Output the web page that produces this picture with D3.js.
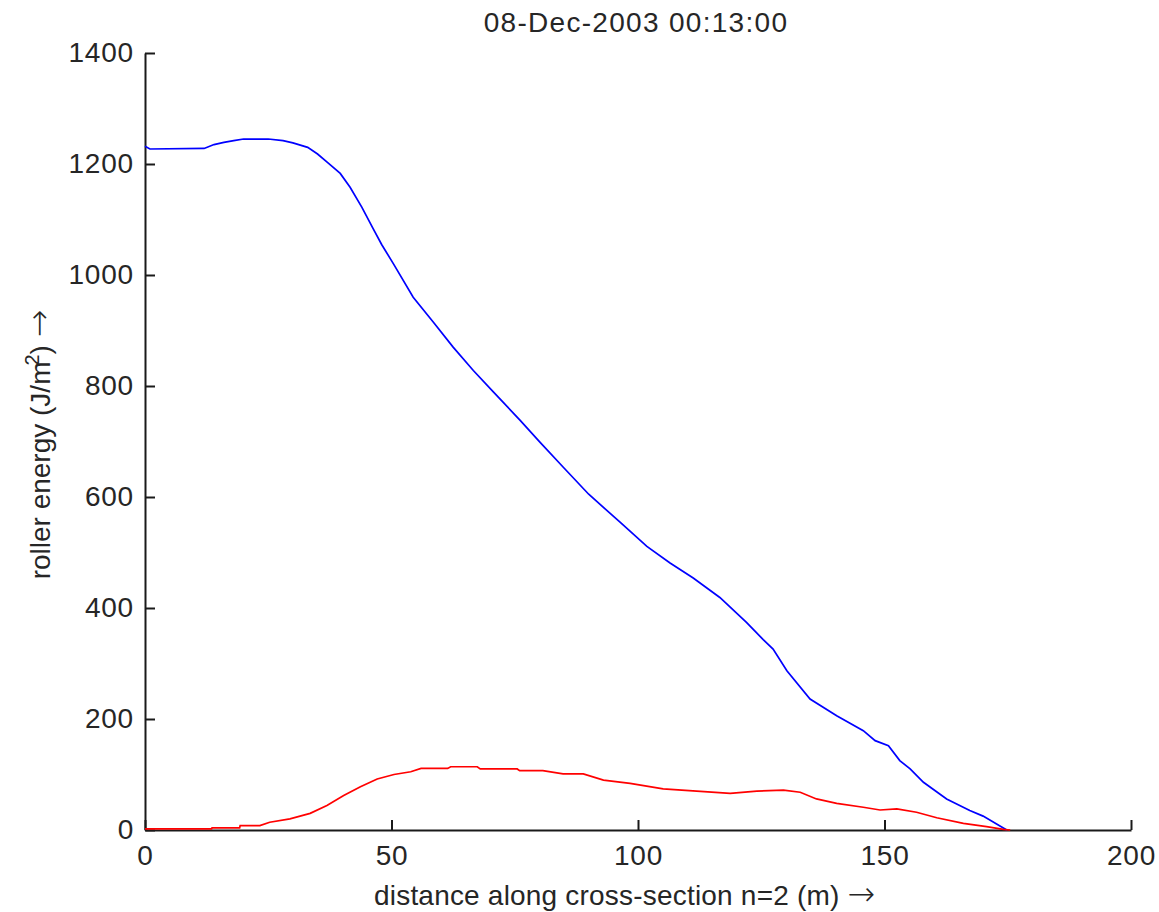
<!DOCTYPE html>
<html>
<head>
<meta charset="utf-8">
<script src="https://cdn.jsdelivr.net/npm/d3@7"></script>
<style>
  html, body { margin: 0; padding: 0; background: #fff; }
  svg { display: block; }
  text { font-family: "Liberation Sans", Arial, Helvetica, sans-serif; }
</style>
</head>
<body>
<svg id="chart" width="1159" height="912"></svg>
<script>
// ---- data ----
const titleText = "08-Dec-2003 00:13:00";
const xLabelText = "distance along cross-section n=2 (m)";
const yLabelText = "roller energy (J/m";
const xTicks = [0, 50, 100, 150, 200];
const yTicks = [0, 200, 400, 600, 800, 1000, 1200, 1400];

const blueX = [0, 1, 12, 14, 16, 18, 20, 25, 28, 30, 33, 35, 37, 39.6, 41.6, 44, 46.3, 48, 50.4, 54.4, 58.5, 62.5, 66.6, 70.7, 76.1, 80.1, 84.8, 90, 96.3, 101.8, 106.5, 111.2, 116.6, 122, 125.4, 127.4, 130.2, 134.9, 140.3, 145.7, 148.1, 150.8, 153.1, 155.2, 157.9, 162.6, 167.3, 170, 174.8];
const blueY = [1232, 1227, 1228, 1235, 1239, 1242, 1245, 1245, 1242, 1238, 1230, 1218, 1203, 1183, 1158, 1122, 1083, 1055, 1020, 960, 915, 870, 828, 789, 738, 699, 654, 605, 555, 511, 481, 454, 419, 374, 343, 326, 287, 236, 206, 179, 161, 152, 125, 110, 86, 56, 35, 25, 0];

const redX = [0, 13.5, 13.6, 19.2, 19.3, 23.3, 25.3, 29.4, 33.5, 36.9, 40.3, 43.7, 47.1, 50.5, 53.9, 56, 61.4, 62, 67.4, 68, 75.5, 76, 80.7, 84.8, 88.9, 93, 98.4, 105.1, 111.9, 118.7, 124.1, 129.5, 132.9, 136.2, 140.3, 145.7, 149.1, 152.5, 156.5, 160.6, 166, 170.7, 174.1, 175.5];
const redY = [2, 2, 4, 4, 8, 8, 14, 20, 30, 44, 62, 78, 92, 100, 105, 111, 111, 114, 114, 110, 110, 107, 107, 101, 101, 90, 84, 74, 70, 66, 70, 72, 68, 56, 48, 41, 36, 38, 32, 22, 12, 6, 1, 0];

// ---- layout ----
const svg = d3.select("#chart");
const mLeft = 145, mRight = 1131, mTop = 53, mBottom = 830;
const fontSize = 28;
const textColor = "#262626";
const arrowFont = '"DejaVu Sans", sans-serif';

const x = d3.scaleLinear().domain([0, 200]).range([mLeft, mRight]);
const y = d3.scaleLinear().domain([0, 1400]).range([mBottom, mTop]);

// axes
const fmt = d3.format("d");
const xAxis = d3.axisBottom(x).tickValues(xTicks).tickFormat(fmt).tickSizeInner(-10).tickSizeOuter(0).tickPadding(15);
const yAxis = d3.axisLeft(y).tickValues(yTicks).tickFormat(fmt).tickSizeInner(-10).tickSizeOuter(0).tickPadding(11);

const gx = svg.append("g").attr("transform", `translate(0,${mBottom})`).call(xAxis);
const gy = svg.append("g").attr("transform", `translate(${mLeft},0)`).call(yAxis);

[gx, gy].forEach(g => {
  g.select(".domain").attr("stroke", "#1a1a1a").attr("stroke-width", 2);
  g.selectAll(".tick line").attr("stroke", "#1a1a1a").attr("stroke-width", 2);
  g.selectAll(".tick text").attr("fill", textColor).style("font-size", fontSize + "px")
    .style("letter-spacing", "0.8px")
    .style("font-family", '"Liberation Sans", Arial, sans-serif');
});

// lines
const line = d3.line().x(d => x(d[0])).y(d => y(d[1]));
const blue = blueX.map((v, i) => [v, blueY[i]]);
const red = redX.map((v, i) => [v, redY[i]]);

svg.append("path").datum(blue).attr("d", line)
  .attr("fill", "none").attr("stroke", "#0000ff").attr("stroke-width", 1.7);
svg.append("path").datum(red).attr("d", line)
  .attr("fill", "none").attr("stroke", "#ff0000").attr("stroke-width", 1.7);

// title
svg.append("text").attr("x", 636).attr("y", 32)
  .attr("text-anchor", "middle").attr("fill", textColor)
  .style("letter-spacing", "1.3px")
  .style("font-size", fontSize + "px").text(titleText);

// x label
const xl = svg.append("text").attr("x", 374).attr("y", 905)
  .attr("text-anchor", "start").attr("fill", textColor)
  .style("letter-spacing", "0.2px")
  .style("font-size", fontSize + "px");
xl.append("tspan").text(xLabelText + " ");
xl.append("tspan").style("font-family", arrowFont).style("font-size", "33px").style("font-weight", "300").text("\u2192");

// y label
const yl = svg.append("text")
  .attr("transform", `translate(50,${(mTop + mBottom) / 2 + 3}) rotate(-90)`)
  .attr("text-anchor", "middle").attr("fill", textColor)
  .style("font-size", fontSize + "px");
yl.append("tspan").text(yLabelText);
yl.append("tspan").attr("dy", -11).attr("dx", -4).style("font-size", "20px").text("2");
yl.append("tspan").attr("dy", 11).text(") ");
yl.append("tspan").style("font-family", arrowFont).style("font-size", "33px").style("font-weight", "300").text("\u2192");
</script>
</body>
</html>
